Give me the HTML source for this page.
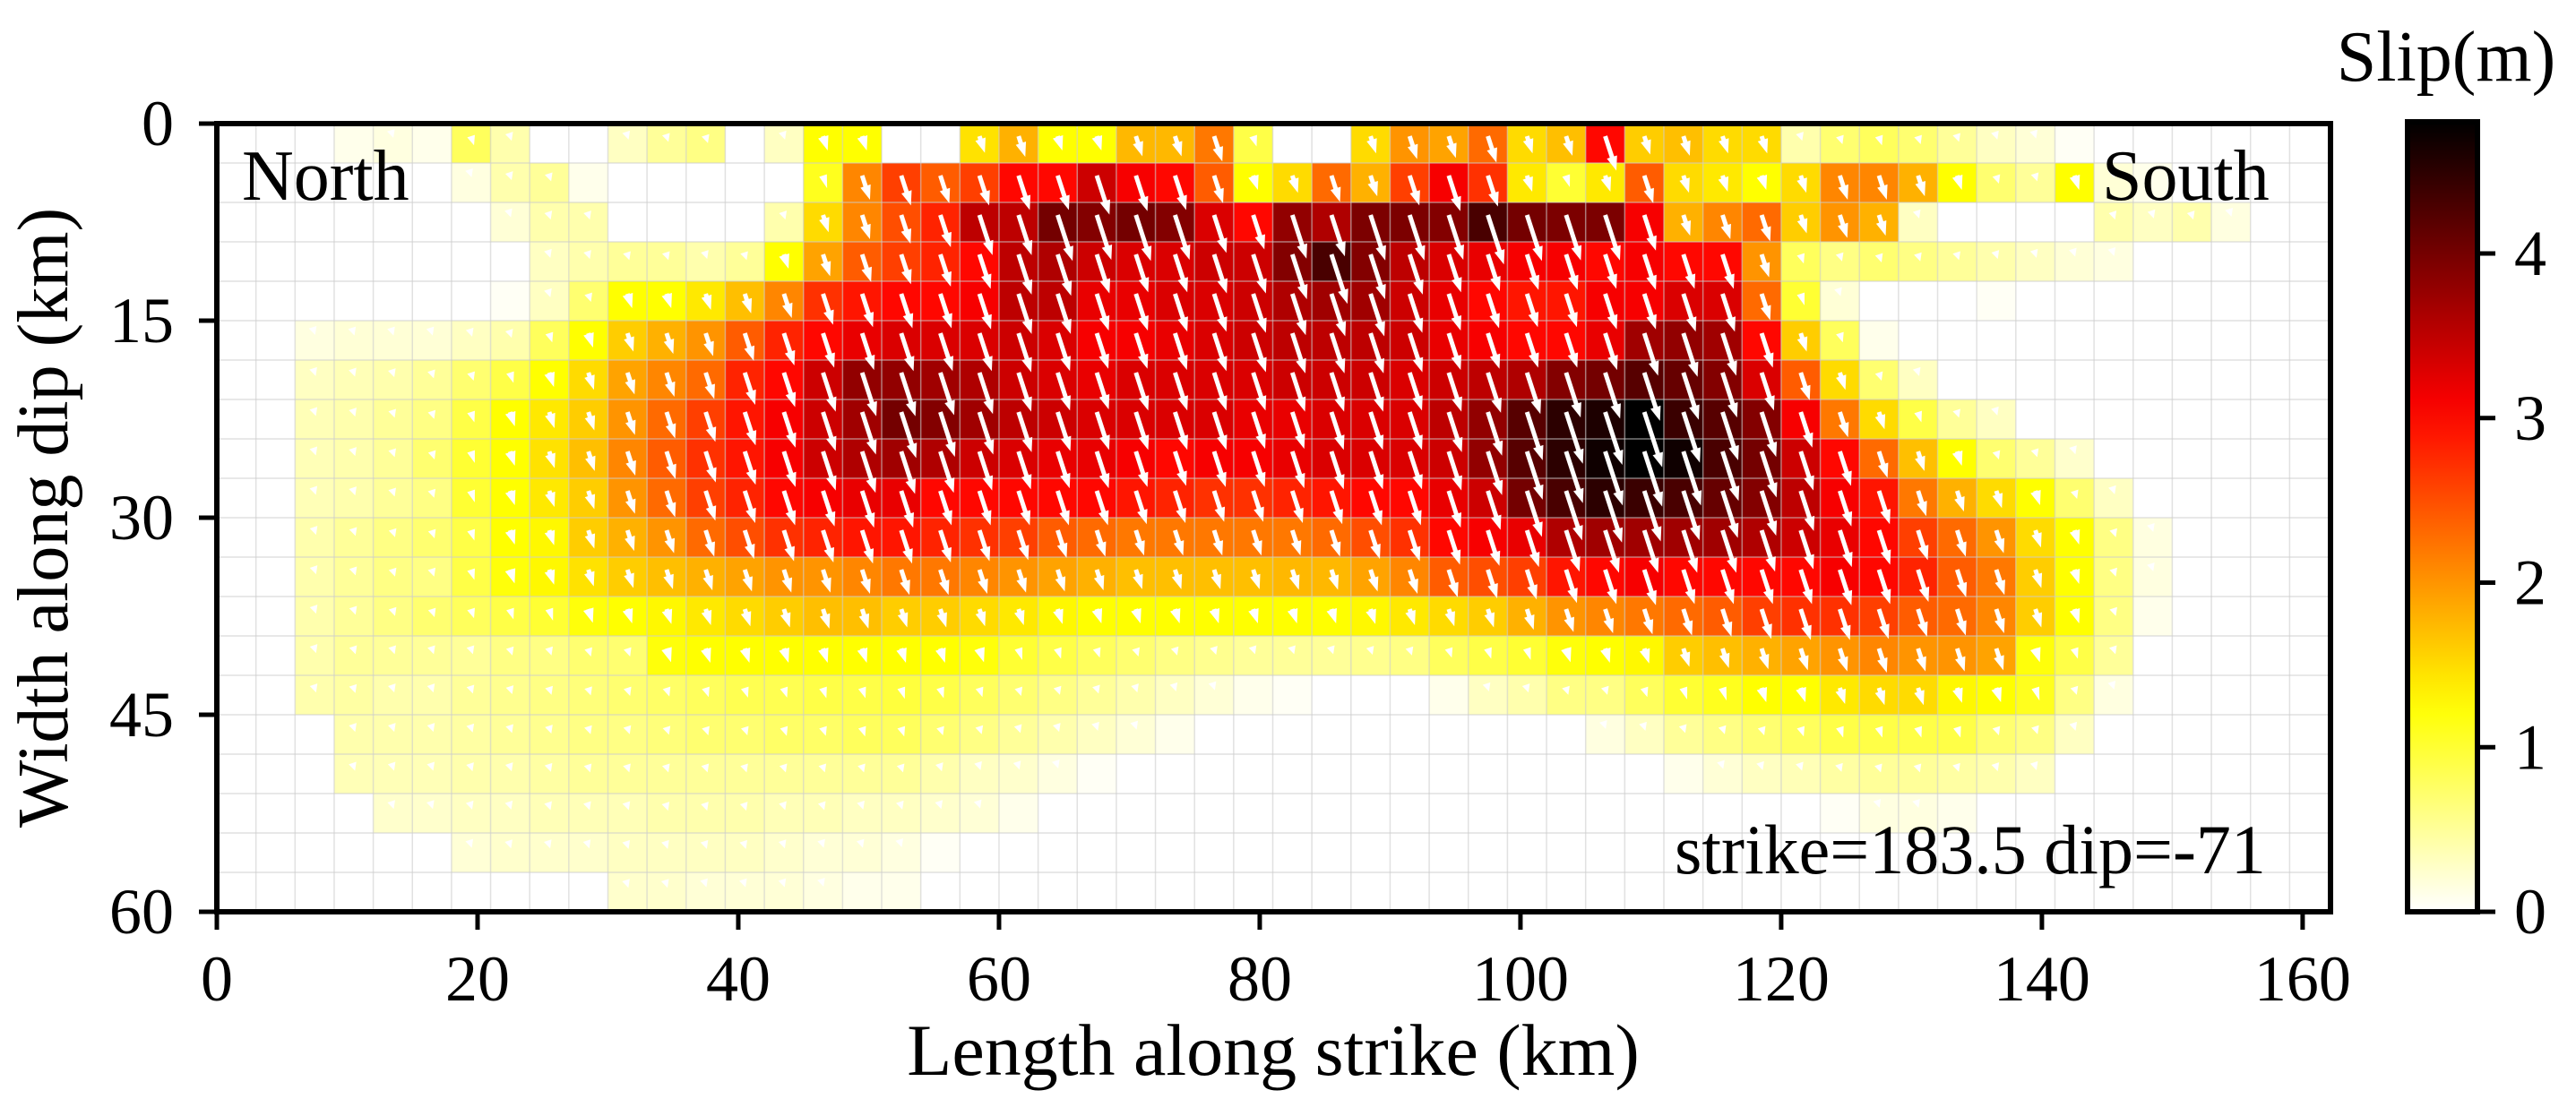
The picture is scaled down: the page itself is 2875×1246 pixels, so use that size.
<!DOCTYPE html>
<html><head><meta charset="utf-8">
<style>
html,body{margin:0;padding:0;background:#fff;}
svg{display:block;font-family:"Liberation Serif","DejaVu Serif",serif;}
</style></head>
<body>
<svg id="chart" width="2875" height="1246" viewBox="0 0 2875 1246" xmlns="http://www.w3.org/2000/svg">
  <g id="cells"></g>
  <g id="gridlines"></g>
  <g id="arrows"></g>
  <rect x="242" y="138" width="2359" height="880" fill="none" stroke="#000" stroke-width="6"/>
  <g id="xticks"></g>
  <g id="yticks"></g>
  <text x="270" y="223" font-size="80">North</text>
  <text x="2346" y="223" font-size="80">South</text>
  <text x="1869" y="975" font-size="78">strike=183.5 dip=-71</text>
  <text x="1421" y="1200" font-size="82" text-anchor="middle">Length along strike (km)</text>
  <text x="0" y="0" font-size="80" text-anchor="middle" transform="translate(75,578) rotate(-90)">Width along dip (km)</text>
  <defs><linearGradient id="cbgrad" x1="0" y1="1" x2="0" y2="0"></linearGradient></defs>
  <rect x="2687" y="136" width="78" height="882" fill="url(#cbgrad)" stroke="#000" stroke-width="6"/>
  <g id="cbticks"></g>
  <text x="2730" y="90" font-size="80" text-anchor="middle">Slip(m)</text>
</svg>
<script>
const slipRows = [
[0,0,0,0.1,0.15,0.1,0.8,0.4,0,0,0.3,0.5,0.6,0,0.3,1.25,1.25,0, 0,1.45,1.8,1.25,1.25,1.75,1.75,2.2,0.9,0,0,1.5,2.0,1.9,2.3,1.5,1.7,3.0, 1.6,1.7,1.5,1.5,0.4,0.7,0.8,0.7,0.5,0.3,0.2,0.05,0,0,0,0,0,0],
[0,0,0,0,0,0,0.15,0.4,0.5,0.1,0,0,0,0,0,1.1,2.1,2.6, 2.4,2.6,3.0,3.0,3.4,3.1,3.0,2.4,1.25,1.5,2.3,1.8,2.6,3.1,2.7,1.4,1.0,1.4, 2.4,1.5,1.4,1.25,1.5,2.1,2.1,1.8,1.25,0.7,0.5,1.25,0.2,0.1,0,0,0,0],
[0,0,0,0,0,0,0,0.2,0.4,0.4,0,0,0,0,0.4,1.5,2.1,2.5, 2.8,3.5,3.5,4.0,3.9,4.0,3.9,3.3,3.0,3.8,3.6,3.95,3.95,3.9,4.3,4.0,3.95,3.95, 3.1,1.8,2.1,2.3,1.6,2.0,1.8,0.3,0,0,0,0,0.4,0.3,0.4,0.15,0,0],
[0,0,0,0,0,0,0,0,0.3,0.4,0.5,0.5,0.4,0.5,1.25,1.9,2.4,2.6, 2.8,3.0,3.5,3.6,3.4,3.3,3.3,3.4,3.4,3.9,4.3,3.9,3.5,3.3,3.2,3.1,3.1,3.0, 3.1,3.0,3.0,2.0,0.8,0.6,0.7,0.6,0.5,0.4,0.3,0.2,0.15,0,0,0,0,0],
[0,0,0,0,0,0,0,0.05,0.3,0.7,1.25,1.25,1.4,1.7,2.1,2.7,2.9,3.0, 3.0,3.1,3.5,3.5,3.2,3.2,3.3,3.3,3.4,3.6,3.7,3.7,3.4,3.2,3.0,2.9,2.9,3.1, 3.1,3.3,3.3,2.3,1.0,0.2,0,0,0,0.05,0,0,0,0,0,0,0,0],
[0,0,0.15,0.2,0.2,0.2,0.3,0.4,0.8,1.25,1.6,1.8,2.0,2.4,2.8,3.0,3.2,3.3, 3.3,3.3,3.4,3.3,3.1,3.1,3.2,3.3,3.4,3.5,3.5,3.5,3.4,3.2,3.1,3.0,3.0,3.2, 3.7,3.8,3.7,3.0,1.6,0.8,0.1,0,0,0,0,0,0,0,0,0,0,0],
[0,0,0.3,0.35,0.4,0.5,0.7,0.9,1.25,1.5,1.9,2.1,2.3,2.8,3.0,3.4,3.8,3.8, 3.7,3.6,3.4,3.3,3.2,3.3,3.3,3.3,3.3,3.4,3.4,3.4,3.3,3.4,3.5,3.6,3.9,4.0, 4.2,4.1,3.9,3.3,2.4,1.5,0.7,0.3,0,0,0,0,0,0,0,0,0,0],
[0,0,0.35,0.4,0.5,0.6,0.9,1.25,1.4,1.6,2.0,2.3,2.6,2.9,3.1,3.4,3.7,4.0, 3.9,3.7,3.5,3.4,3.3,3.3,3.3,3.3,3.2,3.2,3.3,3.3,3.3,3.5,3.8,4.2,4.5,4.6, 4.8,4.4,4.2,3.9,3.1,2.2,1.5,0.9,0.5,0.3,0,0,0,0,0,0,0,0],
[0,0,0.35,0.4,0.5,0.7,1.0,1.25,1.45,1.7,2.1,2.4,2.7,2.9,3.1,3.4,3.6,3.7, 3.6,3.4,3.3,3.2,3.2,3.1,3.0,3.1,3.1,3.2,3.3,3.3,3.3,3.4,3.8,4.2,4.5,4.7, 4.8,4.7,4.3,4.0,3.4,3.0,2.3,1.7,1.25,0.7,0.5,0.25,0,0,0,0,0,0],
[0,0,0.35,0.4,0.5,0.6,1.0,1.25,1.4,1.6,2.0,2.3,2.6,2.8,3.0,3.1,3.2,3.2, 3.0,3.0,3.0,3.0,3.0,2.9,2.8,2.7,2.7,2.8,2.9,3.0,3.0,3.2,3.4,4.0,4.3,4.5, 4.4,4.3,4.1,3.9,3.5,3.1,2.9,2.2,1.8,1.5,1.25,0.7,0.3,0,0,0,0,0],
[0,0,0.4,0.5,0.6,0.7,0.9,1.25,1.3,1.6,1.8,2.0,2.3,2.5,2.7,2.8,2.9,2.9, 2.8,2.7,2.6,2.4,2.3,2.2,2.2,2.2,2.2,2.2,2.3,2.5,2.7,3.0,3.1,3.2,3.6,3.7, 3.7,3.7,3.7,3.6,3.4,3.2,3.0,2.6,2.3,2.0,1.5,1.25,0.6,0.15,0,0,0,0],
[0,0,0.4,0.5,0.6,0.6,0.9,1.2,1.3,1.45,1.6,1.7,1.8,1.9,2.0,2.0,2.1,2.2, 2.2,2.1,2.0,1.9,1.8,1.7,1.7,1.7,1.7,1.75,1.75,1.9,2.1,2.4,2.5,2.6,2.9,3.0, 3.1,3.0,3.0,3.0,3.0,3.1,3.0,2.8,2.4,2.2,1.6,1.25,0.6,0.15,0,0,0,0],
[0,0,0.4,0.5,0.6,0.7,0.8,0.9,1.0,1.2,1.25,1.3,1.4,1.5,1.6,1.7,1.7,1.6, 1.6,1.5,1.4,1.3,1.25,1.25,1.25,1.25,1.25,1.25,1.25,1.3,1.4,1.5,1.6,1.8,2.0,2.1, 2.2,2.3,2.4,2.6,2.7,2.7,2.6,2.4,2.3,2.1,1.6,1.25,0.6,0.1,0,0,0,0],
[0,0,0.4,0.5,0.5,0.5,0.5,0.6,0.6,0.7,0.7,1.2,1.25,1.25,1.25,1.25,1.25,1.25, 1.25,1.2,1.0,0.9,0.8,0.7,0.6,0.55,0.5,0.5,0.5,0.55,0.6,0.8,0.9,1.0,1.2,1.25, 1.3,1.6,1.7,1.8,1.9,2.0,2.1,2.0,2.0,1.9,1.2,0.9,0.5,0,0,0,0,0],
[0,0,0.4,0.45,0.4,0.4,0.5,0.55,0.6,0.65,0.7,0.75,0.8,0.85,0.85,0.9,0.9,0.95, 0.9,0.8,0.7,0.6,0.5,0.4,0.3,0.2,0.1,0.05,0,0,0,0.1,0.3,0.4,0.6,0.6, 0.8,1.0,1.1,1.25,1.25,1.4,1.5,1.5,1.3,1.25,1.1,0.6,0.15,0,0,0,0,0],
[0,0,0,0.4,0.4,0.4,0.45,0.5,0.55,0.6,0.6,0.65,0.7,0.7,0.75,0.75,0.8,0.8, 0.7,0.6,0.5,0.4,0.3,0.2,0.1,0,0,0,0,0,0,0,0,0,0,0.15, 0.3,0.5,0.6,0.7,0.8,0.9,0.9,0.9,0.9,0.7,0.6,0.3,0,0,0,0,0,0],
[0,0,0,0.35,0.35,0.35,0.4,0.4,0.45,0.5,0.5,0.5,0.5,0.5,0.5,0.5,0.5,0.5, 0.4,0.3,0.25,0.15,0.05,0,0,0,0,0,0,0,0,0,0,0,0,0, 0,0.1,0.2,0.3,0.35,0.45,0.5,0.5,0.45,0.4,0.3,0,0,0,0,0,0,0],
[0,0,0,0,0.25,0.25,0.3,0.3,0.35,0.35,0.35,0.4,0.4,0.4,0.35,0.35,0.3,0.3, 0.25,0.2,0.1,0,0,0,0,0,0,0,0,0,0,0,0,0,0,0, 0,0,0,0,0,0.05,0.15,0.15,0.1,0,0,0,0,0,0,0,0,0],
[0,0,0,0,0,0,0.2,0.25,0.25,0.25,0.3,0.3,0.3,0.3,0.25,0.2,0.2,0.15, 0.05,0,0,0,0,0,0,0,0,0,0,0,0,0,0,0,0,0, 0,0,0,0,0,0,0,0,0,0,0,0,0,0,0,0,0,0],
[0,0,0,0,0,0,0,0,0,0,0.25,0.25,0.2,0.2,0.2,0.15,0.1,0.1, 0,0,0,0,0,0,0,0,0,0,0,0,0,0,0,0,0,0, 0,0,0,0,0,0,0,0,0,0,0,0,0,0,0,0,0,0]
];
const xTickValues = [0,20,40,60,80,100,120,140,160];
const yTickValues = [0,15,30,45,60];
const cbTickValues = [0,1,2,3,4];
const cellKm = 3;
const slipMax = 4.8;
const rakeDeg = 18;

const NS = "http://www.w3.org/2000/svg";
const X0 = 242, X1 = 2599, XMAX = 162, Y0 = 138, Y1 = 1018, YMAX = 60;
const xs = km => X0 + km / XMAX * (X1 - X0);
const ys = km => Y0 + km / YMAX * (Y1 - Y0);
const CB_TOP = 136, CB_BOT = 1018;
const cs = v => CB_BOT - v / slipMax * (CB_BOT - CB_TOP);
function clamp(a){return Math.max(0,Math.min(1,a));}
function hotR(v){
  const t = clamp(1 - v / slipMax);
  const r = clamp(t/0.365), g = clamp((t-0.365)/0.375), b = clamp((t-0.74)/0.26);
  return `rgb(${Math.round(r*255)},${Math.round(g*255)},${Math.round(b*255)})`;
}
function mk(tag, attrs, parent){
  const el = document.createElementNS(NS, tag);
  for (const k in attrs) el.setAttribute(k, attrs[k]);
  parent.appendChild(el);
  return el;
}
const cellsG = document.getElementById('cells');
const gridG = document.getElementById('gridlines');
const arrowsG = document.getElementById('arrows');
const nRows = slipRows.length, nCols = slipRows[0].length;
const ang = rakeDeg * Math.PI / 180;
for (let j = 0; j < nRows; j++){
  for (let i = 0; i < nCols; i++){
    const v = slipRows[j][i];
    const x = xs(i*cellKm), y = ys(j*cellKm), w = xs((i+1)*cellKm) - x, h = ys((j+1)*cellKm) - y;
    const c = mk('rect', {x:x, y:y, width:w+0.5, height:h+0.5, fill:hotR(v)}, cellsG);
    
    
    if (v >= 0.15){
      const L = v * 13.5;
      const cx = x + w/2, cy = y + h/2 - 8;
      const dx = Math.sin(ang), dy = Math.cos(ang);
      const tx = cx + dx*L, ty = cy + dy*L;
      const hl = Math.max(9, Math.min(16, L)), hw = L < 16 ? 9 : 12;
      const bx = tx - dx*hl, by = ty - dy*hl;
      const px = -dy, py = dx;
      const g = mk('g', {}, arrowsG);
      
      
      if (L > hl) mk('line', {x1:cx, y1:cy, x2:bx+dx*2, y2:by+dy*2, stroke:'#fff', 'stroke-width':5}, g);
      mk('polygon', {points:`${tx},${ty} ${bx+px*hw/2},${by+py*hw/2} ${bx-px*hw/2},${by-py*hw/2}`, fill:'#fff'}, g);
    }
  }
}
for (let i = 1; i < nCols; i++){
  const x = xs(i*cellKm);
  mk('line', {x1:x, y1:Y0, x2:x, y2:Y1, stroke:'rgba(205,205,205,0.6)', 'stroke-width':1.5}, gridG);
}
for (let j = 1; j < nRows; j++){
  const y = ys(j*cellKm);
  mk('line', {x1:X0, y1:y, x2:X1, y2:y, stroke:'rgba(205,205,205,0.6)', 'stroke-width':1.5}, gridG);
}
const xt = document.getElementById('xticks');
xTickValues.forEach(v => {
  const x = xs(v);
  const t = mk('line', {x1:x, y1:Y1, x2:x, y2:Y1+20, stroke:'#000', 'stroke-width':5}, xt);
  
  
  const l = mk('text', {x:x, y:1117, 'font-size':72, 'text-anchor':'middle'}, xt);
  l.textContent = v;
  
  
});
const yt = document.getElementById('yticks');
yTickValues.forEach(v => {
  const y = ys(v);
  const t = mk('line', {x1:X0-20, y1:y, x2:X0, y2:y, stroke:'#000', 'stroke-width':5}, yt);
  
  
  const l = mk('text', {x:194, y:y+24, 'font-size':72, 'text-anchor':'end'}, yt);
  l.textContent = v;
  
  
});
const grad = document.getElementById('cbgrad');
for (let k = 0; k <= 20; k++){
  const v = k/20*slipMax;
  mk('stop', {offset:(k/20*100)+'%', 'stop-color':hotR(v)}, grad);
}
const cbt = document.getElementById('cbticks');
cbTickValues.forEach(v => {
  const y = cs(v);
  const t = mk('line', {x1:2765, y1:y, x2:2785, y2:y, stroke:'#000', 'stroke-width':5}, cbt);
  
  
  const l = mk('text', {x:2806, y:y+24, 'font-size':72}, cbt);
  l.textContent = v;
  
  
});
</script>
</body></html>
